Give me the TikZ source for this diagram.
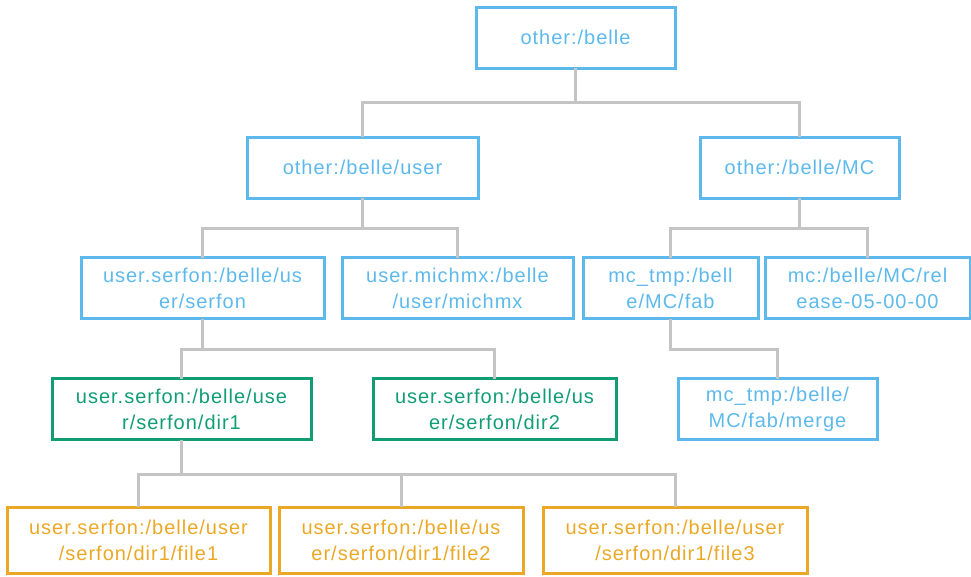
\documentclass[tikz,border=0pt]{standalone}
\usepackage{fontspec}
\setmainfont{Liberation Sans}[LetterSpace=5]
\definecolor{cblue}{HTML}{5DB9EC}
\definecolor{cgreen}{HTML}{109D74}
\definecolor{corange}{HTML}{EBA826}
\definecolor{cgray}{HTML}{C4C4C4}
\begin{document}
\begin{tikzpicture}[x=1pt,y=-1pt,
  box/.style={draw, line width=3pt, inner sep=0pt, align=center,
    font=\fontsize{20}{26}\selectfont, minimum height=61pt},
  bluebox/.style={box, draw=cblue, text=cblue},
  greenbox/.style={box, draw=cgreen, text=cgreen},
  orangebox/.style={box, draw=corange, text=corange, minimum height=66pt},
  link/.style={draw=cgray, line width=3pt}]
\useasboundingbox (0,0) rectangle (971,576);
\node[bluebox, minimum width=199pt] (root) at (575.5,37.5) {other:/belle};
\node[bluebox, minimum width=231pt] (user) at (362.5,167.5) {other:/belle/user};
\node[bluebox, minimum width=199pt] (mc) at (799.5,167.5) {other:/belle/MC};
\node[bluebox, minimum width=243pt] (serfon) at (202.5,288) {user.serfon:/belle/us\\er/serfon};
\node[bluebox, minimum width=231pt] (michmx) at (457.5,288) {user.michmx:/belle\\/user/michmx};
\node[bluebox, minimum width=175pt] (fab) at (670.5,288) {mc\_tmp:/bell\\e/MC/fab};
\node[bluebox, minimum width=205pt] (rel) at (867.5,288) {mc:/belle/MC/rel\\ease-05-00-00};
\node[greenbox, minimum width=259pt] (dir1) at (181.5,409) {user.serfon:/belle/use\\r/serfon/dir1};
\node[greenbox, minimum width=243pt] (dir2) at (494.5,409) {user.serfon:/belle/us\\er/serfon/dir2};
\node[bluebox, minimum width=199pt] (merge) at (777.5,409) {mc\_tmp:/belle/\\MC/fab/merge};
\node[orangebox, minimum width=263pt] (f1) at (138.5,540) {user.serfon:/belle/user\\/serfon/dir1/file1};
\node[orangebox, minimum width=244pt] (f2) at (401,540) {user.serfon:/belle/us\\er/serfon/dir1/file2};
\node[orangebox, minimum width=264pt] (f3) at (675,540) {user.serfon:/belle/user\\/serfon/dir1/file3};
\coordinate (b1) at (0,102);
\coordinate (b2) at (0,228);
\coordinate (b3) at (0,349);
\coordinate (b4) at (0,474);
\begin{scope}[on background layer/.style={}]
\foreach \p/\c/\b in {root/user/b1, root/mc/b1, user/serfon/b2, user/michmx/b2, mc/fab/b2, mc/rel/b2, serfon/dir1/b3, serfon/dir2/b3, fab/merge/b3, dir1/f1/b4, dir1/f2/b4, dir1/f3/b4}
  \draw[link] ([yshift=1.5pt]\p.south) -- (\p.south |- \b) -| ([yshift=-1.5pt]\c.north);
\end{scope}
\end{tikzpicture}
\end{document}
